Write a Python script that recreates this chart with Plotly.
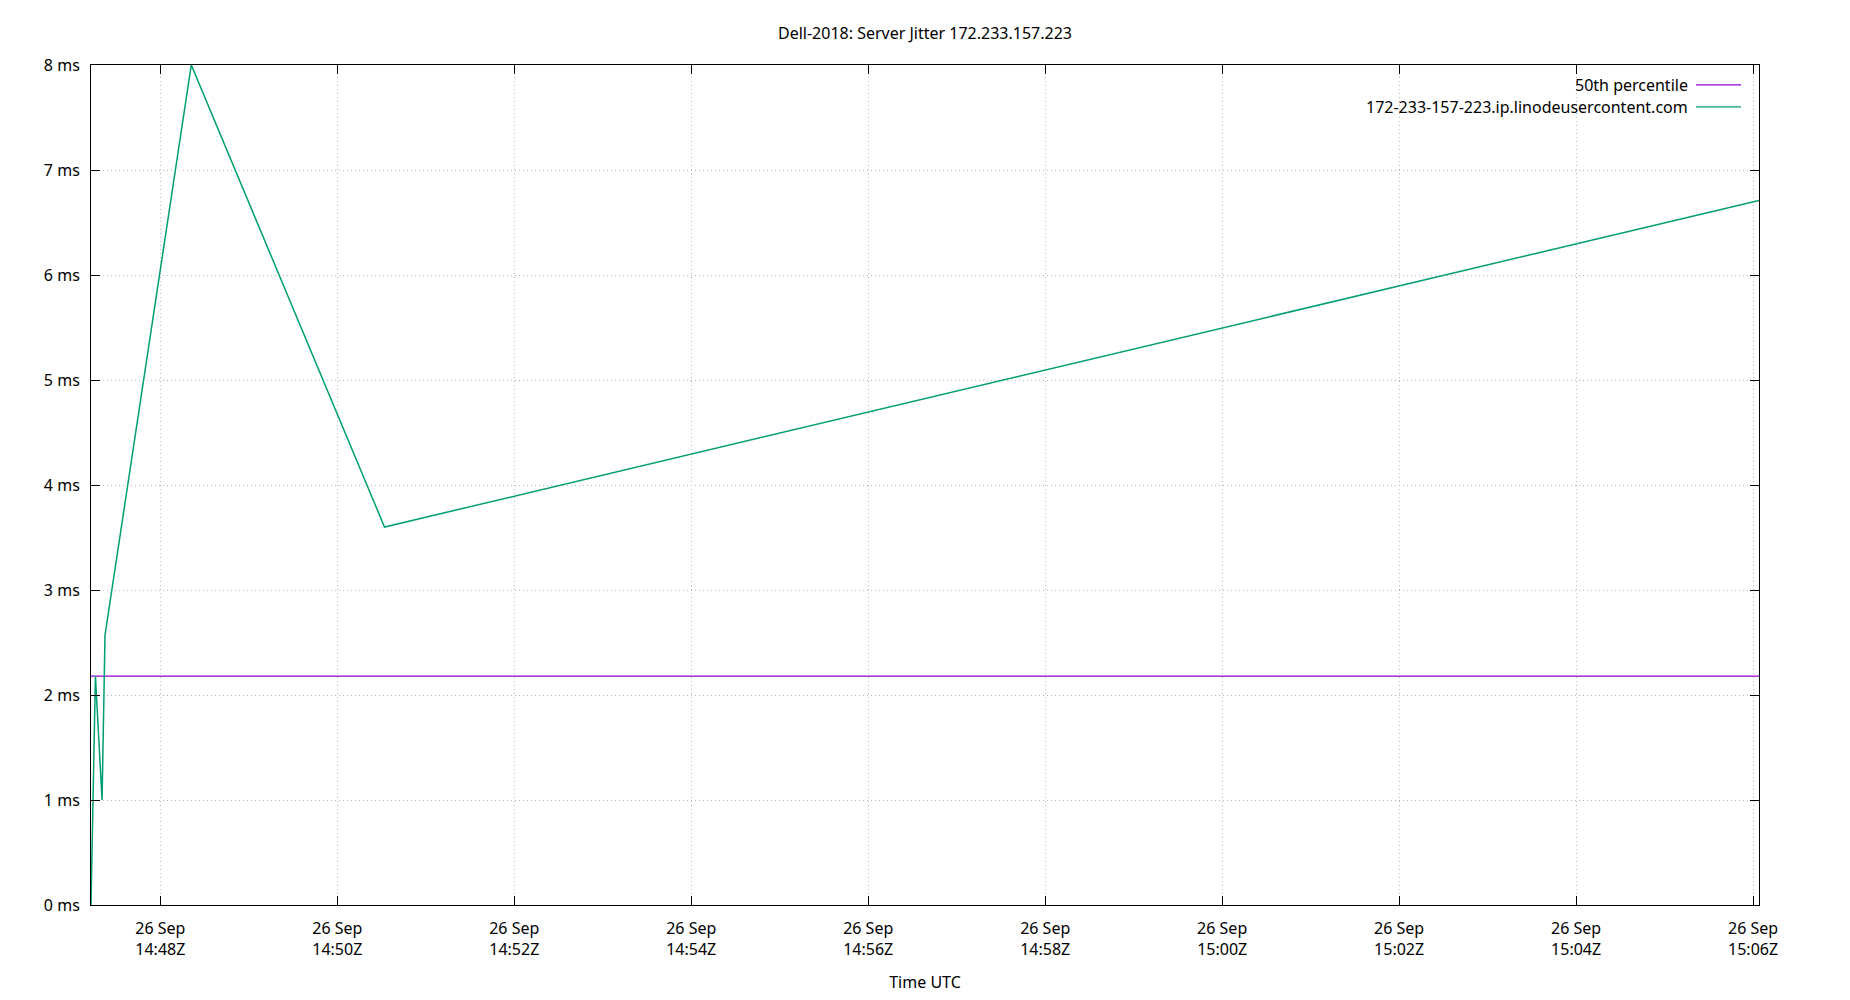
import plotly.graph_objects as go

# Data
times = ["2023-09-26 14:47:13", "2023-09-26 14:47:16", "2023-09-26 14:47:20.5",
         "2023-09-26 14:47:22.5", "2023-09-26 14:48:21", "2023-09-26 14:50:32",
         "2023-09-26 15:06:04"]
jitter_ms = [0.0, 2.18, 1.0, 2.57, 8.0, 3.6, 6.71]
median_ms = 2.18
x_range = ["2023-09-26 14:47:13", "2023-09-26 15:06:04"]
series_names = ["50th percentile", "172-233-157-223.ip.linodeusercontent.com"]
colors = ["#9400d3", "#009e73"]
title = "Dell-2018: Server Jitter 172.233.157.223"

FONT = "Noto Sans"

# page has an 8px body margin; figure is placed at (8, 8)
W, H = 1842, 992
L, T, R, B = 83, 57, 91, 93
PW, PH = W - L - R, H - T - B


def px_x(x_page):
    return (x_page - 8 - L) / PW


def px_y(y_page):
    return 1 - (y_page - 8 - T) / PH


fig = go.Figure()
fig.add_trace(go.Scatter(x=x_range, y=[median_ms, median_ms], mode="lines",
                         line=dict(color=colors[0], width=1.2), name=series_names[0],
                         showlegend=False))
fig.add_trace(go.Scatter(x=times, y=jitter_ms, mode="lines",
                         line=dict(color=colors[1], width=1.5), name=series_names[1],
                         showlegend=False))

# manual gnuplot-style legend (text right, sample line to the right)
legend_y = [85, 107]
for i, name in enumerate(series_names):
    fig.add_annotation(xref="paper", yref="paper",
                       x=px_x(1690), y=px_y(legend_y[i]),
                       text=name, showarrow=False, xanchor="right", yanchor="middle",
                       font=dict(family=FONT, size=16, color="#000"))
    fig.add_shape(type="line", xref="paper", yref="paper",
                  x0=px_x(1696), x1=px_x(1741),
                  y0=px_y(legend_y[i]), y1=px_y(legend_y[i]),
                  line=dict(color=colors[i], width=1.2))

fig.update_layout(
    width=W, height=H,
    margin=dict(l=L, r=R, t=T, b=B),
    paper_bgcolor="white", plot_bgcolor="white",
    font=dict(family=FONT, size=16, color="#000"),
    title=dict(text=title, x=(925 - 8) / W, xanchor="center", y=1 - 25 / H, yanchor="middle",
               font=dict(family=FONT, size=16, color="#000")),
    showlegend=False,
)
fig.update_xaxes(
    type="date", range=x_range,
    dtick=120000, tick0="2023-09-26 14:48:00",
    tickformat="%d %b<br>%H:%MZ",
    ticks="inside", ticklen=9, tickcolor="#000", tickwidth=1,
    showline=True, linecolor="#000", linewidth=1, mirror="allticks",
    showgrid=True, gridcolor="#b8b8b8", griddash="1px,3px", gridwidth=1,
    zeroline=False, ticklabelstandoff=9,
    title=dict(text="Time UTC", standoff=17, font=dict(family=FONT, size=16)),
    tickfont=dict(family=FONT, size=16),
)
fig.update_yaxes(
    range=[0, 8], dtick=1, ticksuffix=" ms",
    ticks="inside", ticklen=9, tickcolor="#000", tickwidth=1,
    showline=True, linecolor="#000", linewidth=1, mirror="allticks",
    showgrid=True, gridcolor="#b8b8b8", griddash="1px,3px", gridwidth=1,
    zeroline=False, ticklabelstandoff=7,
    tickfont=dict(family=FONT, size=16),
)

fig.write_html("out.html")
